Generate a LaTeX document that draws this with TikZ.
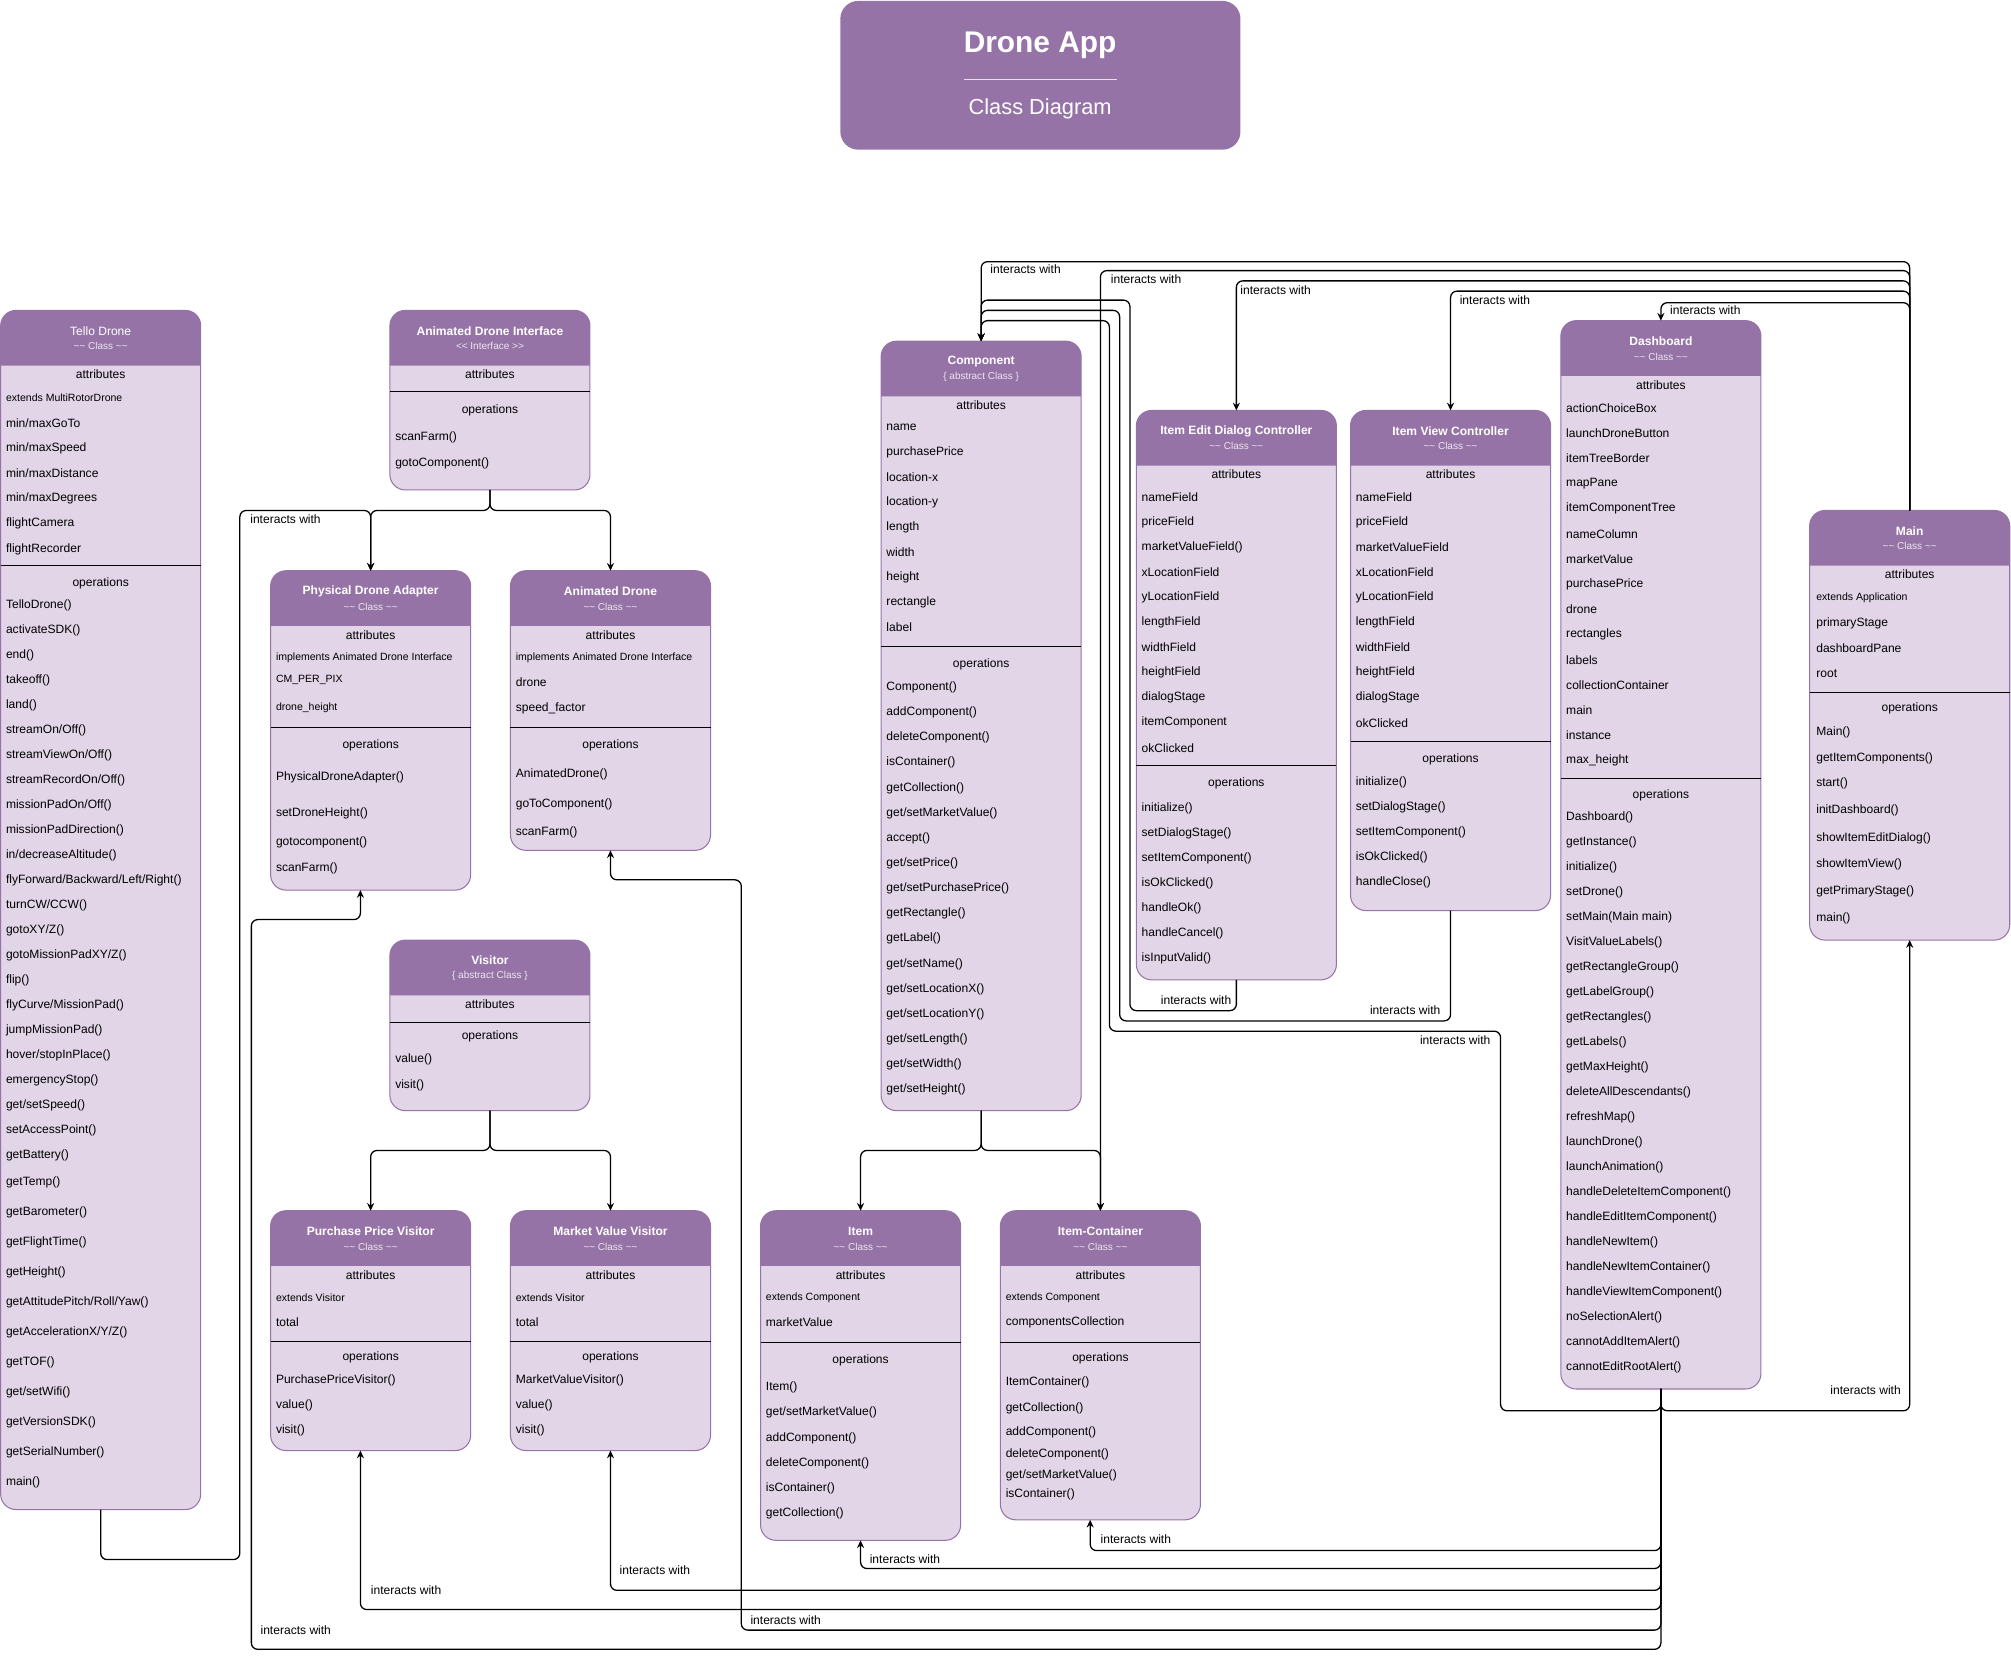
\documentclass[tikz,border=0pt]{standalone}
\usepackage{fontspec}
\setmainfont{Liberation Sans}
\usetikzlibrary{arrows.meta}
\definecolor{wisteria}{HTML}{9673A6}
\definecolor{lavender}{HTML}{E1D5E7}

\newcommand{\fitem}{\fontsize{9.4}{11}\selectfont}
\newcommand{\fsmall}{\fontsize{8.2}{10}\selectfont}
\newcommand{\fsub}{\fontsize{7.8}{9}\selectfont}
\newcommand{\tld}{\textasciitilde\kern0pt\textasciitilde}
\newcommand{\clsub}{\tld{} Class \tld}

% one class: name, left, top, bottom, header bottom, separator, operations y, title, subtitle
\newcommand{\classbox}[9]{%
  \node[classnode, minimum height={#4-#3}] (#1) at (#2,#3) {};
  \fill[wisteria] (#2,#5) [rounded corners=12pt] -- (#2,#3) -- ({#2+156},#3) [sharp corners] -- ({#2+156},#5) -- cycle;
  \draw[sepline] (#2,#6) -- ({#2+156},#6);
  \node[headtitle] (#1-title) at ({#2+78},{#3+16}) {#8};
  \node[headsub] (#1-sub) at ({#2+78},{#3+28}) {#9};
  \node[section] (#1-attr) at ({#2+78},{#5+7}) {attributes};
  \node[section] (#1-ops) at ({#2+78},#7) {operations};
}
% evenly spaced rows: prefix, x, first y, pitch, texts
\newcommand{\itemrows}[5]{%
  \foreach \t [count=\i from 0] in {#5}
    \node[item] (#1\i) at (#2,{#3+\i*#4}) {\t};
}

\begin{document}
\begin{tikzpicture}[x=1pt, y=-1pt, >={Stealth[length=6pt,width=5.5pt]}]

\tikzstyle{classnode}=[rectangle, draw=wisteria, fill=lavender, rounded corners=12pt, line width=0.8pt, minimum width=156pt, anchor=north west, inner sep=0pt, outer sep=0pt]
\tikzstyle{sepline}=[black, line width=0.9pt]
\tikzstyle{headtitle}=[text=white, font=\fitem\bfseries, inner sep=0pt]
\tikzstyle{headsub}=[text=white!82!wisteria, font=\fsub, inner sep=0pt]
\tikzstyle{section}=[text=black, font=\fitem, inner sep=0pt]
\tikzstyle{item}=[anchor=west, text=black, font=\fitem, inner sep=0pt]
\tikzstyle{small}=[anchor=west, text=black, font=\fsmall, inner sep=0pt]
\tikzstyle{note}=[anchor=west, text=black, font=\fitem, inner sep=0pt]
\tikzstyle{link}=[->, black, line width=1pt, rounded corners=5pt]

\useasboundingbox (0,0) rectangle (1568,1296);

% title
\node[rectangle, fill=wisteria, rounded corners=14pt, minimum width=312pt, minimum height=116pt, anchor=north west, inner sep=0pt] (title) at (655,0.5) {};
\node[text=white, font=\fontsize{23.3}{26}\selectfont\bfseries] (title-name) at (811,35) {Drone App};
\draw[white!80!gray, line width=1pt] (752,62) -- (871,62);
\node[text=white, font=\fontsize{17}{20}\selectfont] (title-kind) at (811,85) {Class Diagram};

% drones
\classbox{tello}{0.5}{242}{1177}{285}{441}{455}{\mdseries Tello Drone}{\clsub}
\node[small] (tello-ext) at (4.5,310) {extends MultiRotorDrone};
\itemrows{telloA}{4.5}{330}{19.6}{min/maxGoTo, min/maxSpeed, min/maxDistance, min/maxDegrees, flightCamera, flightRecorder}
\itemrows{telloO}{4.5}{472}{19.5}{TelloDrone(), activateSDK(), end(), takeoff(), land(), streamOn/Off(), streamViewOn/Off(), streamRecordOn/Off(), missionPadOn/Off(), missionPadDirection(), in/decreaseAltitude(), flyForward/Backward/Left/Right(), turnCW/CCW(), gotoXY/Z(), gotoMissionPadXY/Z(), flip(), flyCurve/MissionPad(), jumpMissionPad(), hover/stopInPlace(), emergencyStop(), get/setSpeed(), setAccessPoint(), getBattery()}
\itemrows{telloP}{4.5}{922}{23.4}{getTemp(), getBarometer(), getFlightTime(), getHeight(), getAttitudePitch/Roll/Yaw(), getAccelerationX/Y/Z(), getTOF(), get/setWifi(), getVersionSDK(), getSerialNumber(), main()}

\classbox{adi}{304}{242}{382}{285}{305}{320}{Animated Drone Interface}{\textless\kern0pt\textless{} Interface \textgreater\kern0pt\textgreater}
\itemrows{adiO}{308}{341}{20}{scanFarm(), gotoComponent()}

\classbox{pda}{211}{445}{694}{488}{567}{581}{Physical Drone Adapter}{\clsub}
\node[small] (pda-impl) at (215,513) {implements Animated Drone Interface};
\node[small] (pda-cm) at (215,530) {CM\_PER\_PIX};
\node[small] (pda-dh) at (215,552) {drone\_height};
\foreach \y/\t [count=\i] in {606/PhysicalDroneAdapter(), 634/setDroneHeight(), 657/gotocomponent(), 677/scanFarm()}
  \node[item] (pdaO\i) at (215,\y) {\t};

\classbox{ad}{398}{445}{663}{488}{567}{581}{Animated Drone}{\clsub}
\node[small] (ad-impl) at (402,513) {implements Animated Drone Interface};
\node[item] (ad-drone) at (402,532) {drone};
\node[item] (ad-speed) at (402,552) {speed\_factor};
\foreach \y/\t [count=\i] in {604/AnimatedDrone(), 627/goToComponent(), 649/scanFarm()}
  \node[item] (adO\i) at (402,\y) {\t};

% visitors
\classbox{vis}{304}{733}{866}{776}{797}{808}{Visitor}{\{ abstract Class \}}
\itemrows{visO}{308}{826}{20}{value(), visit()}

\classbox{ppv}{211}{944}{1131}{987}{1046}{1058}{Purchase Price Visitor}{\clsub}
\node[small] (ppv-ext) at (215,1012) {extends Visitor};
\node[item] (ppv-total) at (215,1031) {total};
\itemrows{ppvO}{215}{1076}{19.5}{PurchasePriceVisitor(), value(), visit()}

\classbox{mvv}{398}{944}{1131}{987}{1046}{1058}{Market Value Visitor}{\clsub}
\node[small] (mvv-ext) at (402,1012) {extends Visitor};
\node[item] (mvv-total) at (402,1031) {total};
\itemrows{mvvO}{402}{1076}{19.5}{MarketValueVisitor(), value(), visit()}

% components
\classbox{comp}{687}{266}{866}{309}{504}{518}{Component}{\{ abstract Class \}}
\itemrows{compA}{691}{333}{19.5}{name, purchasePrice, location-x, location-y, length, width, height, rectangle, label}
\itemrows{compO}{691}{536}{19.6}{Component(), addComponent(), deleteComponent(), isContainer(), getCollection(), get/setMarketValue(), accept(), get/setPrice(), get/setPurchasePrice(), getRectangle(), getLabel(), get/setName(), get/setLocationX(), get/setLocationY(), get/setLength(), get/setWidth(), get/setHeight()}

\classbox{item}{593}{944}{1201}{987}{1047}{1061}{Item}{\clsub}
\node[small] (item-ext) at (597,1012) {extends Component};
\node[item] (item-mv) at (597,1031) {marketValue};
\itemrows{itemO}{597}{1082}{19.6}{Item(), get/setMarketValue(), addComponent(), deleteComponent(), isContainer(), getCollection()}

\classbox{ic}{780}{944}{1185}{987}{1047}{1059}{Item-Container}{\clsub}
\node[small] (ic-ext) at (784,1012) {extends Component};
\node[item] (ic-cc) at (784,1031) {componentsCollection};
\foreach \y/\t [count=\i] in {1078/ItemContainer(), 1098/getCollection(), 1117/addComponent(), 1134/deleteComponent(), 1150/{get/setMarketValue()}, 1165/isContainer()}
  \node[item] (icO\i) at (784,\y) {\t};

% controllers
\classbox{iedc}{886}{320}{764}{363}{597}{611}{Item Edit Dialog Controller}{\clsub}
\itemrows{iedcA}{890}{388}{19.5}{nameField, priceField, marketValueField(), xLocationField, yLocationField, lengthField, widthField, heightField, dialogStage, itemComponent, okClicked}
\itemrows{iedcO}{890}{630}{19.5}{initialize(), setDialogStage(), setItemComponent(), isOkClicked(), handleOk(), handleCancel(), isInputValid()}

\classbox{ivc}{1053}{320}{710}{363}{578}{592}{Item View Controller}{\clsub}
\itemrows{ivcA}{1057}{388}{19.5}{nameField, priceField, marketValueField, xLocationField, yLocationField, lengthField, widthField, heightField, dialogStage, okClicked}
\itemrows{ivcO}{1057}{610}{19.5}{initialize(), setDialogStage(), setItemComponent(), isOkClicked(), handleClose()}

\classbox{dash}{1217}{250}{1083}{293}{607}{620}{Dashboard}{\clsub}
\itemrows{dashA}{1221}{318}{19.64}{actionChoiceBox, launchDroneButton, itemTreeBorder, mapPane, itemComponentTree, nameColumn, marketValue, purchasePrice, drone, rectangles, labels, collectionContainer, main, instance, max\_height}
\itemrows{dashO}{1221}{637}{19.5}{Dashboard(), getInstance(), initialize(), setDrone(), setMain(Main main), VisitValueLabels(), getRectangleGroup(), getLabelGroup(), getRectangles(), getLabels(), getMaxHeight(), deleteAllDescendants(), refreshMap(), launchDrone(), launchAnimation(), handleDeleteItemComponent(), handleEditItemComponent(), handleNewItem(), handleNewItemContainer(), handleViewItemComponent(), noSelectionAlert(), cannotAddItemAlert(), cannotEditRootAlert()}

\classbox{main}{1411}{398}{733}{441}{540}{552}{Main}{\clsub}
\node[small] (main-ext) at (1416,466) {extends Application};
\itemrows{mainA}{1416}{486}{19.5}{primaryStage, dashboardPane, root}
\foreach \y/\t [count=\i] in {571/Main(), 591/getItemComponents(), 611/start(), 632/initDashboard(), 654/showItemEditDialog(), 674/showItemView(), 695/getPrimaryStage(), 716/main()}
  \node[item] (mainO\i) at (1416,\y) {\t};

% hierarchy
\draw[link] (adi.south) -- (382,398) -| (pda.north);
\draw[link] (adi.south) -- (382,398) -| (ad.north);
\draw[link] (vis.south) -- (382,897) -| (ppv.north);
\draw[link] (vis.south) -- (382,897) -| (mvv.north);
\draw[link] (comp.south) -- (765,897) -| (item.north);
\draw[link] (comp.south) -- (765,897) -| (ic.north);

% interactions
\draw[link] (tello.south) |- (187,1216) -- (187,398) -| (pda.north);
\draw[link] (main.north) -- (1489,204) -| (comp.north);
\draw[link] (main.north) -- (1489,211) -| (ic.north);
\draw[link] (main.north) -- (1489,219) -| (iedc.north);
\draw[link] (main.north) -- (1489,227) -| (ivc.north);
\draw[link] (main.north) -- (1489,236) -| (dash.north);
\draw[link] (iedc.south) |- (881,788) -- (881,234) -| (comp.north);
\draw[link] (ivc.south) |- (873,796) -- (873,242) -| (comp.north);
\draw[link] (dash.south) |- (1170,1100) -- (1170,804) -- (865,804) -- (865,250) -| (comp.north);
\draw[link] (dash.south) |- (1489,1100) -- (main.south);
\draw[link] (dash.south) -- (1295,1209) -| ([xshift=-8pt]ic.south);
\draw[link] (dash.south) -- (1295,1223) -| (item.south);
\draw[link] (dash.south) -- (1295,1240) -| (mvv.south);
\draw[link] (dash.south) -- (1295,1255) -| ([xshift=-8pt]ppv.south);
\draw[link] (dash.south) -- (1295,1271) -| (578,686) -| (ad.south);
\draw[link] (dash.south) -- (1295,1286) -| (196,717) -| ([xshift=-8pt]pda.south);

\node[note] (lbl-tello) at (195,405) {interacts with};
\node[note] (lbl-comp) at (772,210) {interacts with};
\node[note] (lbl-ic) at (866,218) {interacts with};
\node[note] (lbl-iedc) at (967,226) {interacts with};
\node[note] (lbl-ivc) at (1138,234) {interacts with};
\node[note] (lbl-dash) at (1302,242) {interacts with};
\node[note] (lbl-iedc2) at (905,780) {interacts with};
\node[note] (lbl-ivc2) at (1068,788) {interacts with};
\node[note] (lbl-dash2) at (1107,811) {interacts with};
\node[note] (lbl-main) at (1427,1084) {interacts with};
\node[note] (lbl-ic2) at (858,1200) {interacts with};
\node[note] (lbl-item) at (678,1216) {interacts with};
\node[note] (lbl-mvv) at (483,1224) {interacts with};
\node[note] (lbl-ppv) at (289,1240) {interacts with};
\node[note] (lbl-ad) at (585,1263) {interacts with};
\node[note] (lbl-pda) at (203,1271) {interacts with};

\end{tikzpicture}
\end{document}
